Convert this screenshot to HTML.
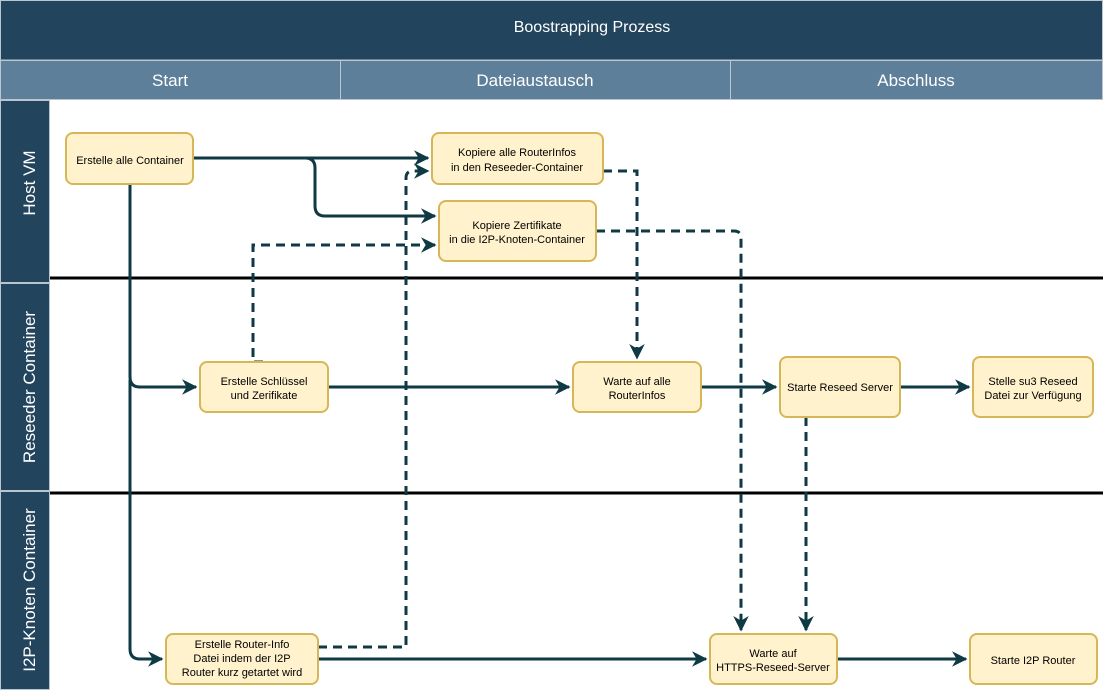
<!DOCTYPE html>
<html><head><meta charset="utf-8"><style>
html,body{margin:0;padding:0;background:#fff;}
svg{display:block;font-family:"Liberation Sans",Arial,sans-serif;}
</style></head><body>
<svg width="1103" height="691" viewBox="0 0 1103 691" xmlns="http://www.w3.org/2000/svg">
<defs>
<marker id="ar" viewBox="0 0 10 10" refX="9" refY="5" markerWidth="5.2" markerHeight="5.2" orient="auto" markerUnits="strokeWidth">
<path d="M0,0 L10,5 L0,10 L3,5 Z" fill="#0f3a44"/>
</marker>
</defs>
<rect x="0" y="0" width="1103" height="691" fill="#fff"/>
<rect x="0.5" y="0.5" width="1102" height="59.5" fill="#23445d" stroke="#b9c6d2"/>
<text x="592" y="32" fill="#fff" font-size="16" text-anchor="middle">Boostrapping Prozess</text>
<rect x="0.5" y="60.5" width="340" height="39" fill="#5d7f99" stroke="#b9c6d2"/>
<rect x="340.5" y="60.5" width="390" height="39" fill="#5d7f99" stroke="#b9c6d2"/>
<rect x="730.5" y="60.5" width="372" height="39" fill="#5d7f99" stroke="#b9c6d2"/>
<text x="170" y="86" fill="#fff" font-size="17" text-anchor="middle">Start</text>
<text x="535" y="86" fill="#fff" font-size="17" text-anchor="middle">Dateiaustausch</text>
<text x="916" y="86" fill="#fff" font-size="17" text-anchor="middle">Abschluss</text>
<rect x="0.5" y="100.5" width="49" height="182" fill="#23445d" stroke="#b9c6d2"/>
<rect x="0.5" y="283.5" width="49" height="207" fill="#23445d" stroke="#b9c6d2"/>
<rect x="0.5" y="491.5" width="49" height="198" fill="#23445d" stroke="#b9c6d2"/>
<text transform="translate(35,183) rotate(-90)" fill="#fff" font-size="17" text-anchor="middle">Host VM</text>
<text transform="translate(35,387) rotate(-90)" fill="#fff" font-size="17" text-anchor="middle">Reseeder Container</text>
<text transform="translate(35,590) rotate(-90)" fill="#fff" font-size="17" text-anchor="middle">I2P-Knoten Container</text>
<line x1="50" y1="278" x2="1103" y2="278" stroke="#000" stroke-width="3"/>
<line x1="50" y1="493" x2="1103" y2="493" stroke="#000" stroke-width="3"/>

<g fill="none" stroke="#0f3a44" stroke-width="3">
<path d="M193,158 L428,158" marker-end="url(#ar)"/>
<path d="M305,158 Q315,158 315,168 L315,206 Q315,216 325,216 L435,216" marker-end="url(#ar)"/>
<path d="M130,184 L130,377 Q130,387 140,387 L196,387" marker-end="url(#ar)"/>
<path d="M130,380 L130,649 Q130,659 140,659 L162,659" marker-end="url(#ar)"/>
<path d="M328,387 L569,387" marker-end="url(#ar)"/>
<path d="M701,387 L776,387" marker-end="url(#ar)"/>
<path d="M900,387 L969,387" marker-end="url(#ar)"/>
<path d="M318,659 L706,659" marker-end="url(#ar)"/>
<path d="M837,659 L966,659" marker-end="url(#ar)"/>
<g stroke-dasharray="9,6">
<path d="M263,362 L253,362 L253,245 L435,245" marker-end="url(#ar)"/>
<path d="M603,171 L637,171 L637,358" marker-end="url(#ar)"/>
<path d="M596,231 L734,231 Q741,231 741,238 L741,630" marker-end="url(#ar)"/>
<path d="M806,417 L806,630" marker-end="url(#ar)"/>
<path d="M318,647 L406,647 L406,178 Q406,171 413,171 L428,171" marker-end="url(#ar)"/>
</g>
</g>

<g fill="#fff2cc" stroke="#d6b656" stroke-width="2">
<rect x="66" y="133" width="127" height="51" rx="7"/>
<rect x="432" y="133" width="171" height="51" rx="7"/>
<rect x="439" y="201" width="157" height="60" rx="7"/>
<rect x="200" y="362" width="128" height="50" rx="7"/>
<rect x="573" y="362" width="128" height="50" rx="7"/>
<rect x="780" y="357" width="120" height="60" rx="7"/>
<rect x="973" y="357" width="120" height="60" rx="7"/>
<rect x="166" y="634" width="152" height="50" rx="7"/>
<rect x="710" y="634" width="127" height="50" rx="7"/>
<rect x="970" y="634" width="127" height="50" rx="7"/>
</g>
<g fill="#000" font-size="11" text-anchor="middle">
<text x="130" y="164">Erstelle alle Container</text>
<text x="517" y="156">Kopiere alle RouterInfos</text>
<text x="517" y="171">in den Reseeder-Container</text>
<text x="517" y="229">Kopiere Zertifikate</text>
<text x="517" y="243">in die I2P-Knoten-Container</text>
<text x="264" y="385">Erstelle Schlüssel</text>
<text x="264" y="399">und Zerifikate</text>
<text x="637" y="385">Warte auf alle</text>
<text x="637" y="399">RouterInfos</text>
<text x="840" y="391">Starte Reseed Server</text>
<text x="1033" y="385">Stelle su3 Reseed</text>
<text x="1033" y="399">Datei zur Verfügung</text>
<text x="242" y="648">Erstelle Router-Info</text>
<text x="242" y="662">Datei indem der I2P</text>
<text x="242" y="676">Router kurz getartet wird</text>
<text x="773" y="657">Warte auf</text>
<text x="773" y="671">HTTPS-Reseed-Server</text>
<text x="1033" y="664">Starte I2P Router</text>
</g>
</svg>
</body></html>
